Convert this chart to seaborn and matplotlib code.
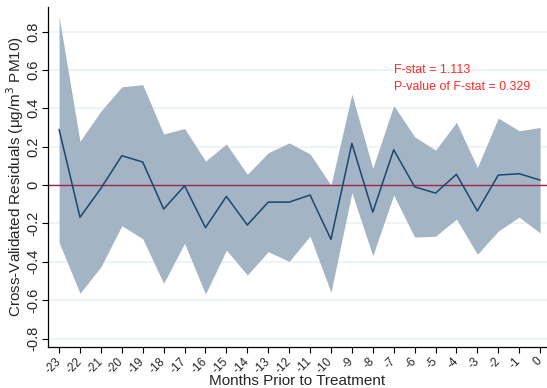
import numpy as np
import pandas as pd
import matplotlib
matplotlib.use("Agg")
import matplotlib.pyplot as plt
import seaborn as sns

months = list(range(-23, 1))
residual = [0.29, -0.168, -0.017, 0.153, 0.12, -0.125, -0.004, -0.222, -0.059, -0.208,
            -0.089, -0.089, -0.052, -0.283, 0.217, -0.141, 0.184, -0.009, -0.042, 0.056,
            -0.135, 0.052, 0.059, 0.026]
ci_upper = [0.877, 0.228, 0.386, 0.512, 0.523, 0.266, 0.295, 0.125, 0.214, 0.056,
            0.168, 0.22, 0.162, 0.0, 0.474, 0.087, 0.415, 0.252, 0.182, 0.327,
            0.092, 0.349, 0.283, 0.30]
ci_lower = [-0.299, -0.564, -0.426, -0.212, -0.28, -0.512, -0.304, -0.568, -0.339, -0.469,
            -0.347, -0.398, -0.266, -0.559, -0.04, -0.368, -0.052, -0.271, -0.267, -0.177,
            -0.361, -0.24, -0.167, -0.25]
y_ticks = [-0.8, -0.6, -0.4, -0.2, 0, 0.2, 0.4, 0.6, 0.8]
y_tick_labels = ["-0.8", "-0.6", "-0.4", "-0.2", "0", "0.2", "0.4", "0.6", "0.8"]
f_stat = 1.113
p_value = 0.329

df = pd.DataFrame({"month": months, "resid": residual, "lo": ci_lower, "hi": ci_upper})

sns.set_theme(style="white")
plt.rcParams["font.family"] = ["Liberation Sans", "DejaVu Sans"]

fig = plt.figure(figsize=(5.47, 3.88), dpi=100)
ax = fig.add_axes([48 / 547, 1 - 347 / 388, 499 / 547, 340 / 388])

navy = "#1a476f"
for yv in y_ticks:
    ax.axhline(yv, color="#eaf2f3", lw=1.2, zorder=0)

ax.fill_between(df["month"], df["lo"], df["hi"], color="#a3b4c5", lw=0, zorder=1)
ax.axhline(0, color="#a3224f", lw=1.0, zorder=2)
sns.lineplot(data=df, x="month", y="resid", ax=ax, color=navy, lw=1.1, zorder=3)

ax.set_xlim(-23.53, 0.33)
ax.set_ylim(-0.844, 0.928)
ax.set_xticks(months)
ax.set_xticklabels([str(m) for m in months], rotation=45, fontsize=8.5,
                   ha="right", va="center", rotation_mode="anchor")
ax.set_yticks(y_ticks)
ax.set_yticklabels(y_tick_labels, rotation=90, fontsize=10.5, va="center")
ax.tick_params(axis="both", which="both", length=4, width=0.8, color="black",
               direction="out", bottom=True, left=True)
ax.tick_params(axis="y", pad=1.5)
ax.tick_params(axis="x", pad=5)

for side in ["top", "right"]:
    ax.spines[side].set_visible(False)
for side in ["left", "bottom"]:
    ax.spines[side].set_color("black")
    ax.spines[side].set_linewidth(0.9)

ax.set_xlabel("Months Prior to Treatment", fontsize=11)
ax.xaxis.set_label_coords(0.5, -0.1)
ax.xaxis.label.set_va("center")
ax.set_ylabel("Cross-Validated Residuals (\u03bcg/m$^3$ PM10)", fontsize=11)
ax.yaxis.set_label_coords(-0.066, 0.5)
ax.yaxis.label.set_va("center")

ax.text(-7.0, 0.599, f"F-stat = {f_stat:.3f}", color="#ff2a2a", fontsize=8.9, va="center")
ax.text(-7.0, 0.511, f"P-value of F-stat = {p_value:.3f}", color="#ff2a2a", fontsize=8.9, va="center")

fig.savefig("out.png", dpi=100)
